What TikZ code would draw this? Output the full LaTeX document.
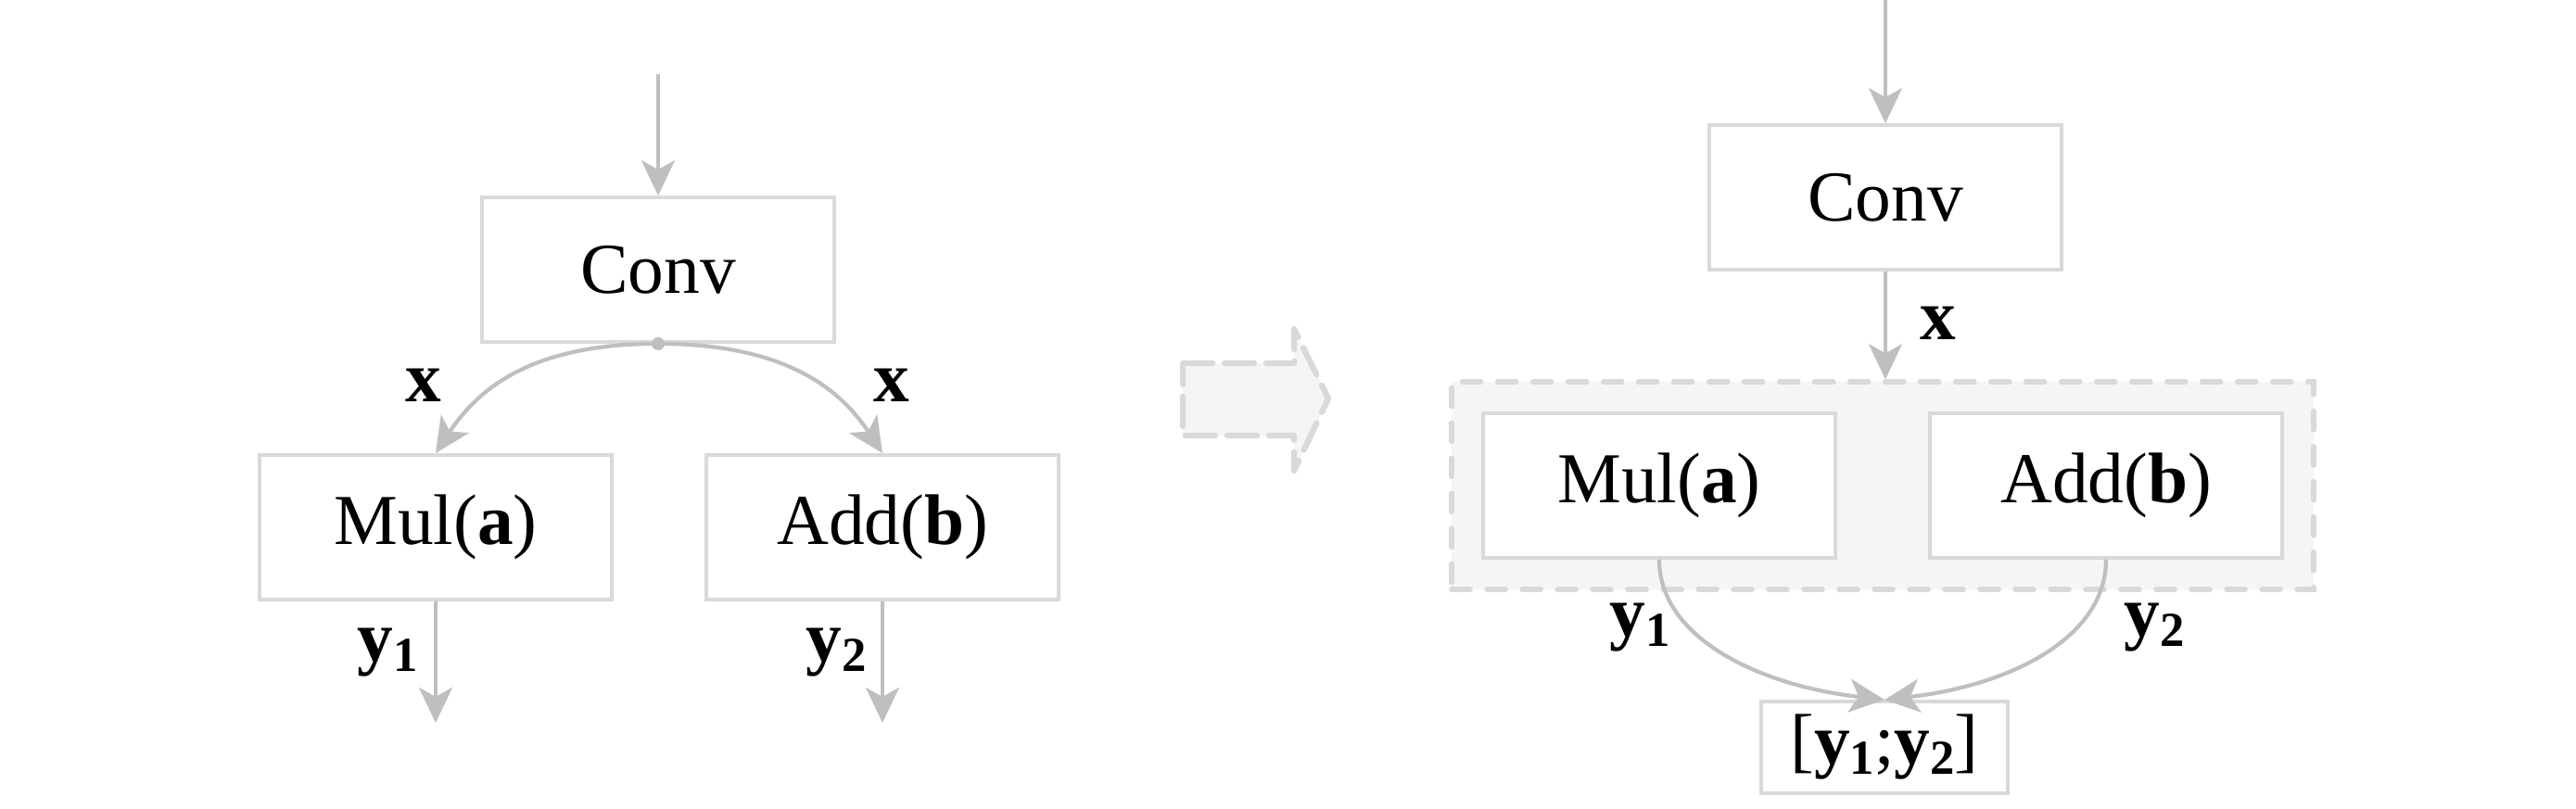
\documentclass[tikz,border=0pt]{standalone}
\usepackage{fontspec}
\setmainfont{Liberation Serif}
\usepackage{tikz}
\usetikzlibrary{arrows.meta, positioning, fit, backgrounds, calc}
\definecolor{lineGray}{HTML}{D9D9D9}
\definecolor{arrowGray}{HTML}{BFBFBF}
\definecolor{panelBg}{HTML}{F5F5F5}
\newcommand{\lowsub}[1]{\raisebox{-0.3ex}{\fontsize{15}{15}\selectfont #1}}
\newcommand{\vy}[1]{\textbf{y\lowsub{#1}}}

\begin{document}
\begin{tikzpicture}[
    opbox/.style={rectangle, draw=lineGray, line width=1.1pt, fill=white,
                  minimum width=3.8cm, minimum height=1.56cm, font=\fontsize{22}{26}\selectfont},
    group/.style={rectangle, draw=lineGray, fill=panelBg, line width=1.6pt, line cap=round,
                  dash pattern=on 2mm off 1.8mm, inner sep=0.32cm},
    fatarrow/.style={draw=lineGray, fill=panelBg, line width=1.8pt, line cap=round, line join=round,
                     dash pattern=on 3.2mm off 1.3mm},
    arrow/.style={-{Stealth[length=3.8mm, width=3.6mm, inset=1mm]}, line width=1.2pt, draw=arrowGray},
    lbl/.style={font=\fontsize{22}{24}\selectfont\bfseries},
]
\useasboundingbox (0,0) rectangle (27.79,8.73);

% left: two separate branches
\coordinate (in1) at (7.1,7.93);
\node[opbox] (conv1) at (7.1,5.82) {Conv};
\node[opbox] (mul1) at (4.7,3.04) {Mul(\textbf{a})};
\node[opbox] (add1) at (9.52,3.04) {Add(\textbf{b})};
\coordinate (out1) at (4.7,0.93);
\coordinate (out2) at (9.52,0.93);
\draw[arrow] (in1) -- (conv1);
\draw[arrow] (conv1.south) .. controls +(-1.32,0) and +(0.48,0.73) .. (mul1.north);
\draw[arrow] (conv1.south) .. controls +(1.32,0) and +(-0.48,0.73) .. (add1.north);
\fill[arrowGray] (conv1.south) circle (0.07);
\draw[arrow] (mul1) -- (out1);
\draw[arrow] (add1) -- (out2);
\node[lbl] (xa) at (4.57,4.57) {x};
\node[lbl] (xb) at (9.62,4.57) {x};
\node[lbl] (ya) at (4.18,1.69) {\vy{1}};
\node[lbl] (yb) at (9.02,1.69) {\vy{2}};

% big arrow
\draw[fatarrow] (12.76,4.81) -- (13.96,4.81) -- (13.96,5.18) -- (14.33,4.43)
    -- (13.96,3.65) -- (13.96,4.03) -- (12.76,4.03) -- cycle;

% right: merged branch
\coordinate (in2) at (20.34,8.73);
\node[opbox] (conv2) at (20.34,6.60) {Conv};
\node[opbox] (mul2) at (17.9,3.49) {Mul(\textbf{a})};
\node[opbox] (add2) at (22.72,3.49) {Add(\textbf{b})};
\begin{scope}[on background layer]
  \node[group, fit=(mul2)(add2)] (grp) {};
\end{scope}
\node[opbox, minimum width=2.66cm, minimum height=0.99cm] (cat) at (20.33,0.665) {[\vy{1};\vy{2}]};
\draw[arrow] (in2) -- (conv2);
\draw[arrow] (conv2) -- (grp.north -| conv2);
\draw[arrow] (mul2.south) .. controls +(0,-0.85) and +(-1.34,0.15) .. (cat.north);
\draw[arrow] (add2.south) .. controls +(0,-0.85) and +(1.34,0.15) .. (cat.north);
\node[lbl] (xc) at (20.91,5.24) {x};
\node[lbl] (yc) at (17.69,1.96) {\vy{1}};
\node[lbl] (yd) at (23.24,1.96) {\vy{2}};
\end{tikzpicture}
\end{document}
